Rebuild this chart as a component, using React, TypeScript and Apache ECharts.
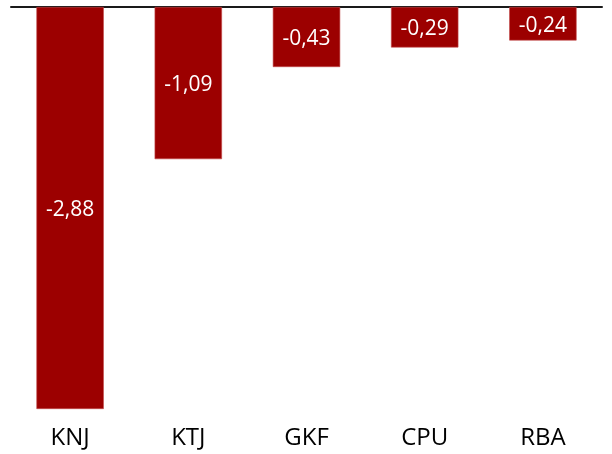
import React, { useEffect, useRef } from "react";
import * as echarts from "echarts";

const categories = ["KNJ", "KTJ", "GKF", "CPU", "RBA"];
const values = [-2.88, -1.09, -0.43, -0.29, -0.24];

export default function App() {
  const ref = useRef<HTMLDivElement>(null);
  useEffect(() => {
    const chart = echarts.init(ref.current!, null, { renderer: "svg" });
    chart.setOption({
      animation: false,
      grid: { left: 11, right: 10, top: 7, bottom: 45, containLabel: false },
      xAxis: [
        {
          type: "category",
          data: categories,
          position: "top",
          axisLine: { show: true, onZero: false, lineStyle: { color: "#1a1a1a", width: 2 } },
          axisTick: { show: false },
          axisLabel: { show: false },
        },
        {
          type: "category",
          data: categories,
          position: "bottom",
          axisLine: { show: false },
          axisTick: { show: false },
          axisLabel: {
            show: true,
            margin: 14,
            color: "#000",
            fontFamily: "Open Sans",
            fontSize: 24,
          },
        },
      ],
      yAxis: {
        type: "value",
        min: -2.88,
        max: 0,
        show: false,
        splitLine: { show: false },
      },
      series: [
        {
          type: "bar",
          data: values,
          xAxisIndex: 0,
          barWidth: "57%",
          itemStyle: { color: "#9c0000", borderColor: "#c24a4a", borderWidth: 0.6 },
          label: {
            show: true,
            position: "inside",
            color: "#fff",
            fontFamily: "Open Sans",
            fontSize: 21,
            formatter: (p: any) => String(p.value.toFixed(2)).replace(".", ","),
          },
        },
      ],
    });
    return () => chart.dispose();
  }, []);
  return (
    <div
      ref={ref}
      style={{ position: "fixed", left: 0, top: 0, width: 612, height: 454 }}
    />
  );
}
